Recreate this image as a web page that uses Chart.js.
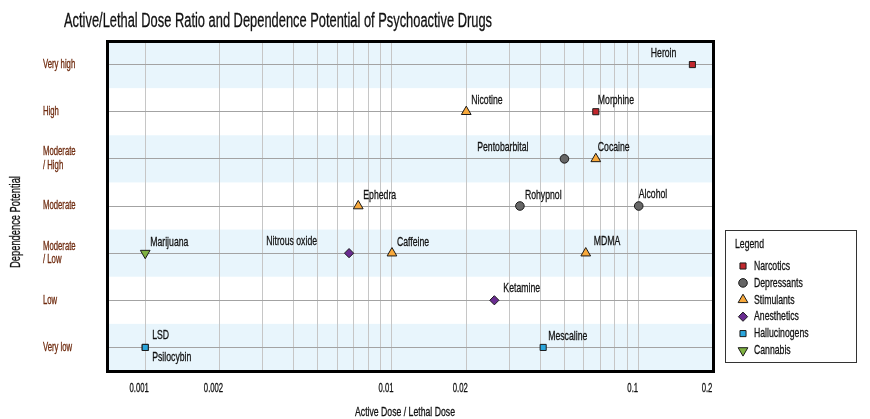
<!DOCTYPE html>
<html><head><meta charset="utf-8">
<script src="https://cdn.jsdelivr.net/npm/chart.js@4/dist/chart.umd.min.js"></script>
<style>html,body{margin:0;padding:0;background:#fff}#wrap{width:870px;height:419px;position:relative}</style>
</head><body><div id="wrap"><canvas id="c"></canvas></div>
<script>
// ---------- data ----------
const chartTitle = 'Active/Lethal Dose Ratio and Dependence Potential of Psychoactive Drugs';
const xTitle = 'Active Dose / Lethal Dose';
const yTitle = 'Dependence Potential';
const legendTitle = 'Legend';
const levelLabels = [['Very low'], ['Low'], ['Moderate', '/ Low'], ['Moderate'], ['Moderate', '/ High'], ['High'], ['Very high']];
const xTickLabels = [0.001, 0.002, 0.01, 0.02, 0.1, 0.2];
const seriesNames = ['Narcotics', 'Depressants', 'Stimulants', 'Anesthetics', 'Hallucinogens', 'Cannabis'];

const narcoticsDrugs = ['Heroin', 'Morphine'];
const narcoticsRatio = [0.165, 0.067];
const narcoticsLevel = [7, 6];

const depressantsDrugs = ['Pentobarbital', 'Rohypnol', 'Alcohol'];
const depressantsRatio = [0.05, 0.033, 0.1];
const depressantsLevel = [5, 4, 4];

const stimulantsDrugs = ['Nicotine', 'Cocaine', 'Ephedra', 'Caffeine', 'MDMA'];
const stimulantsRatio = [0.02, 0.067, 0.0073, 0.01, 0.061];
const stimulantsLevel = [6, 5, 4, 3, 3];

const anestheticsDrugs = ['Nitrous oxide', 'Ketamine'];
const anestheticsRatio = [0.0067, 0.026];
const anestheticsLevel = [3, 2];

const hallucinogensDrugs = ['LSD', 'Psilocybin', 'Mescaline'];
const hallucinogensRatio = [0.001, 0.001, 0.041];
const hallucinogensLevel = [1, 1, 1];

const cannabisDrugs = ['Marijuana'];
const cannabisRatio = [0.001];
const cannabisLevel = [3];

// ---------- styles ----------
const FONT = '"Liberation Sans", Arial, sans-serif';
const TITLE_TARGET_W = 428; // reference title is a strongly condensed face
const seriesStyle = [
  {color: '#c1272d', shape: 'rect', r: 4.3, rot: 0},
  {color: '#666666', shape: 'circle', r: 4.3, rot: 0},
  {color: '#f8a93c', shape: 'triangle', r: 5.6, rot: 0},
  {color: '#6a2c91', shape: 'rectRot', r: 4.6, rot: 0},
  {color: '#2aa6dd', shape: 'rect', r: 4.3, rot: 0},
  {color: '#7fb241', shape: 'triangle', r: 5.6, rot: 180}
];
const labelPlace = {
  'Heroin': {side: 'left', dx: -16, dy: -11},
  'Pentobarbital': {side: 'left', dx: -36, dy: -12},
  'Nitrous oxide': {side: 'left', dx: -32, dy: -12},
  'Psilocybin': {side: 'right', dx: 7, dy: 10},
  'LSD': {side: 'right', dx: 7, dy: -12},
  'Morphine': {side: 'right', dx: 2, dy: -11},
  'Cocaine': {side: 'right', dx: 2, dy: -12},
  'Alcohol': {side: 'right', dx: 0, dy: -12},
  'MDMA': {side: 'right', dx: 8, dy: -12},
  'Ketamine': {side: 'right', dx: 9, dy: -12}
};

const seriesData = [
  [narcoticsDrugs, narcoticsRatio, narcoticsLevel],
  [depressantsDrugs, depressantsRatio, depressantsLevel],
  [stimulantsDrugs, stimulantsRatio, stimulantsLevel],
  [anestheticsDrugs, anestheticsRatio, anestheticsLevel],
  [hallucinogensDrugs, hallucinogensRatio, hallucinogensLevel],
  [cannabisDrugs, cannabisRatio, cannabisLevel]
];

const datasets = seriesNames.map((name, i) => {
  const [drugs, ratio, level] = seriesData[i];
  const st = seriesStyle[i];
  return {
    label: name,
    drugs: drugs,
    data: ratio.map((v, j) => ({x: v, y: level[j]})),
    pointStyle: st.shape,
    pointRotation: st.rot,
    pointRadius: st.r,
    pointHoverRadius: st.r,
    backgroundColor: st.color,
    borderColor: '#1a1a1a',
    borderWidth: 1
  };
});

let K = 0.63;
function condText(ctx, text, x, y, size, align, color, baseline) {
  ctx.save();
  ctx.font = size + 'px ' + FONT;
  ctx.fillStyle = color || '#111';
  ctx.strokeStyle = color || '#111';
  ctx.lineWidth = 0.3;
  ctx.textBaseline = baseline || 'middle';
  ctx.translate(x, y);
  ctx.scale(K, 1);
  ctx.textAlign = align || 'left';
  ctx.fillText(text, 0, 0);
  ctx.strokeText(text, 0, 0);
  ctx.restore();
}

const decorPlugin = {
  id: 'decor',
  beforeDraw(chart) {
    const {ctx, chartArea: a, scales: {y}} = chart;
    ctx.save();
    ctx.font = '20px ' + FONT;
    K = TITLE_TARGET_W / ctx.measureText(chartTitle).width;
    ctx.fillStyle = '#e8f5fc';
    for (let lv = 1; lv <= 7; lv += 2) {
      const t = y.getPixelForValue(lv + 0.5), b = y.getPixelForValue(lv - 0.5);
      ctx.fillRect(a.left, t, a.right - a.left, b - t);
    }
    ctx.restore();
  },
  afterDraw(chart) {
    const {ctx, chartArea: a, scales: {x, y}} = chart;
    ctx.save();
    // frame
    ctx.strokeStyle = '#000';
    ctx.lineWidth = 3;
    ctx.strokeRect(a.left + 0.5, a.top + 0.5, a.right - a.left, a.bottom - a.top);
    // point labels
    chart.data.datasets.forEach((ds, i) => {
      const meta = chart.getDatasetMeta(i);
      meta.data.forEach((pt, j) => {
        const name = ds.drugs[j];
        const p = labelPlace[name] || {side: 'right', dx: 5, dy: -11};
        condText(ctx, name, pt.x + p.dx, pt.y + p.dy, 13.5, p.side === 'left' ? 'right' : 'left', '#111');
      });
    });
    // y tick labels
    levelLabels.forEach((lines, i) => {
      const py = y.getPixelForValue(i + 1);
      const n = lines.length;
      lines.forEach((ln, k) => {
        condText(ctx, ln, 43, py + (k - (n - 1) / 2) * 13.5, 12, 'left', '#6e2a0e');
      });
    });
    // x tick labels
    xTickLabels.forEach(v => {
      condText(ctx, String(v), x.getPixelForValue(v) - 6, a.bottom + 18, 12, 'center', '#111');
    });
    // axis titles
    condText(ctx, xTitle, (a.left + a.right) / 2 - 5, 412, 13.5, 'center', '#111');
    ctx.save();
    ctx.translate(16, 222);
    ctx.rotate(-Math.PI / 2);
    condText(ctx, yTitle, 0, 0, 14.5, 'center', '#111');
    ctx.restore();
    // chart title
    condText(ctx, chartTitle, 64, 27, 20, 'left', '#111', 'alphabetic');
    // legend
    ctx.strokeStyle = '#333';
    ctx.lineWidth = 1;
    ctx.strokeRect(725.5, 230.5, 131, 132);
    condText(ctx, legendTitle, 735, 244.5, 13.5, 'left', '#111');
    chart.data.datasets.forEach((ds, i) => {
      const yy = 266 + i * 16.9;
      ctx.fillStyle = ds.backgroundColor;
      ctx.strokeStyle = ds.borderColor;
      ctx.lineWidth = 1;
      Chart.helpers.drawPoint(ctx, {pointStyle: ds.pointStyle, rotation: ds.pointRotation, radius: ds.pointRadius, borderWidth: 1}, 743, yy);
      condText(ctx, ds.label, 754, yy, 13.5, 'left', '#111');
    });
    ctx.restore();
  }
};

function buildXTicks() {
  const out = [];
  for (let e = -3; e <= -1; e++) {
    for (let m = 1; m <= 9; m++) {
      const v = Number((m * Math.pow(10, e)).toPrecision(3));
      if (v <= 0.2) out.push({value: v});
    }
  }
  out.push({value: 0.2});
  return out;
}

new Chart(document.getElementById('c'), {
  type: 'scatter',
  data: {datasets},
  options: {
    responsive: true,
    maintainAspectRatio: false,
    animation: false,
    layout: {padding: {left: 43, right: 157, top: 41, bottom: 0}},
    plugins: {legend: {display: false}, title: {display: false}, tooltip: {enabled: false}},
    scales: {
      x: {
        type: 'logarithmic',
        min: 0.0007,
        max: 0.2,
        afterBuildTicks: s => { s.ticks = buildXTicks(); },
        afterFit: s => { s.height = 48; },
        border: {display: false},
        grid: {color: '#c6c6c6', drawTicks: false, lineWidth: 1},
        ticks: {display: false, autoSkip: false}
      },
      y: {
        min: 0.5,
        max: 7.5,
        afterBuildTicks: s => { s.ticks = levelLabels.map((_, i) => ({value: i + 1})); },
        afterFit: s => { s.width = 64; },
        border: {display: false},
        grid: {color: '#a3a3a3', drawTicks: false, lineWidth: 1},
        ticks: {display: false}
      }
    }
  },
  plugins: [decorPlugin]
});
</script>
</body></html>
